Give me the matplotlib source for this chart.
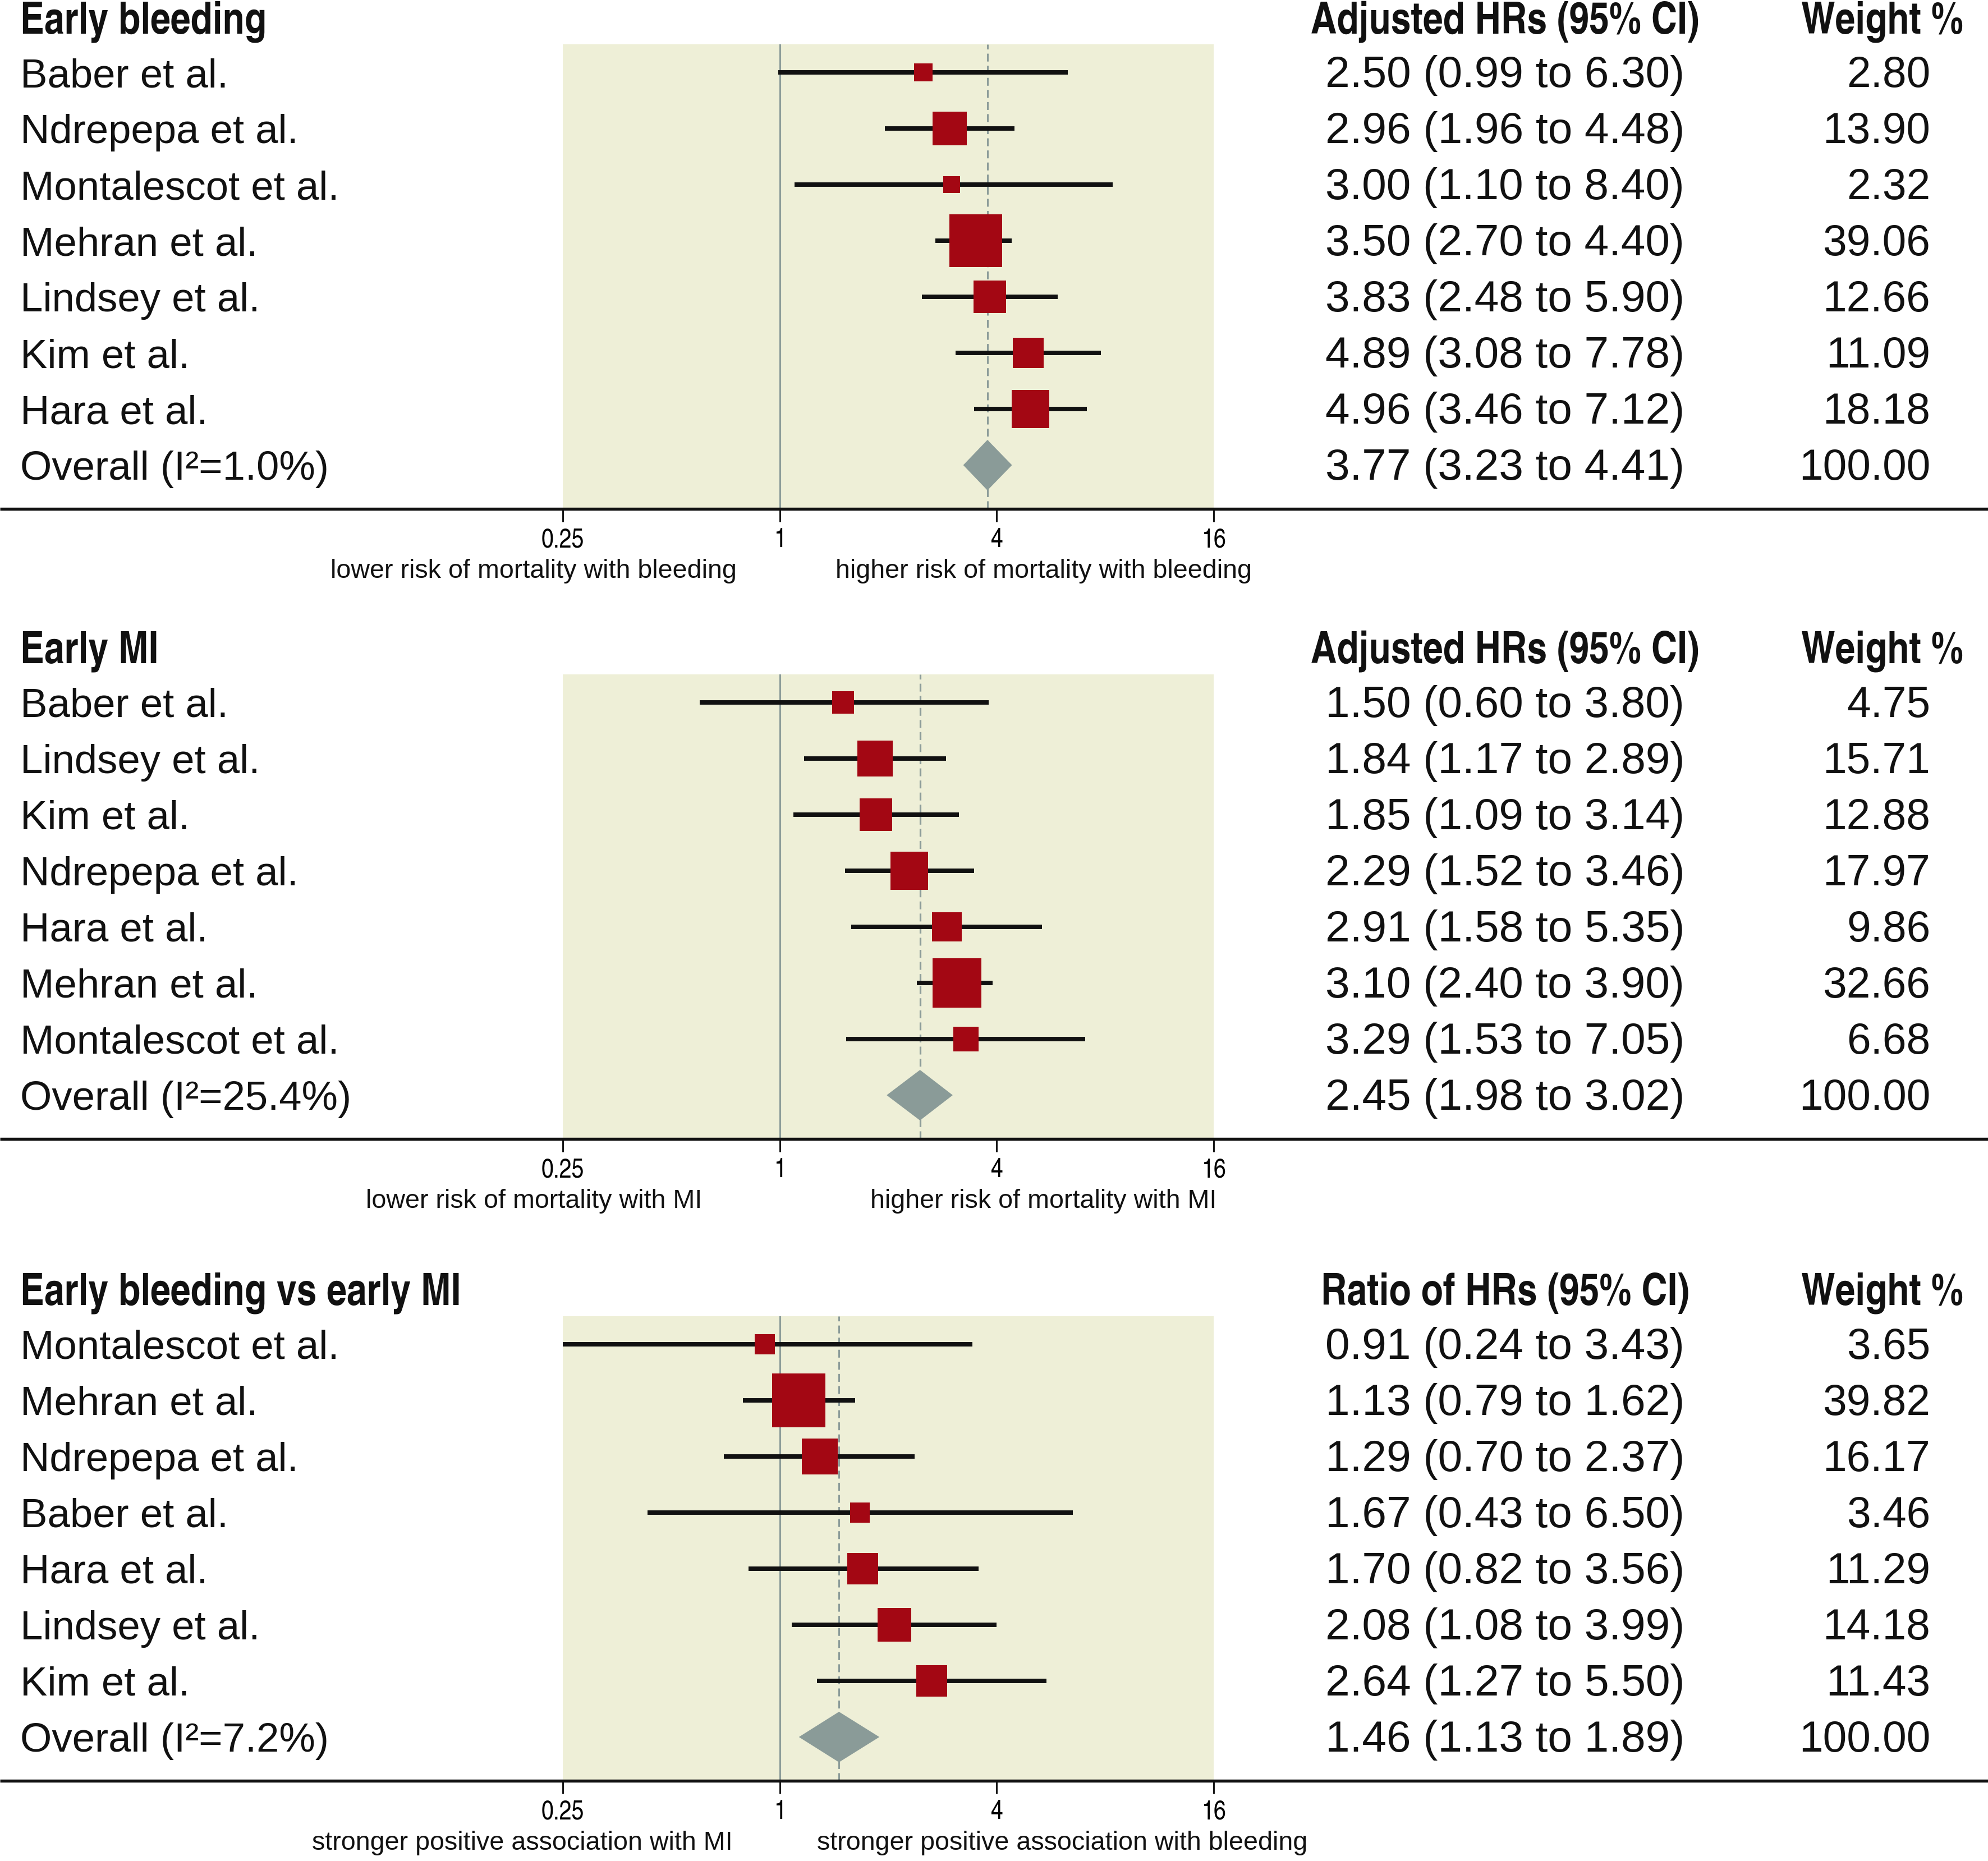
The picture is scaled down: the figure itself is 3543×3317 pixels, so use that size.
import numpy as np
import matplotlib
matplotlib.use("Agg")
import matplotlib.pyplot as plt
from matplotlib.patches import Polygon
from matplotlib.transforms import blended_transform_factory

# ---- data ----
bleedStudies = ["Baber et al.", "Ndrepepa et al.", "Montalescot et al.", "Mehran et al.",
                "Lindsey et al.", "Kim et al.", "Hara et al."]
bleedHR = [2.50, 2.96, 3.00, 3.50, 3.83, 4.89, 4.96]
bleedLow = [0.99, 1.96, 1.10, 2.70, 2.48, 3.08, 3.46]
bleedHigh = [6.30, 4.48, 8.40, 4.40, 5.90, 7.78, 7.12]
bleedWeight = [2.80, 13.90, 2.32, 39.06, 12.66, 11.09, 18.18]
bleedOverall = [3.77, 3.23, 4.41]
bleedI2 = "1.0"

miStudies = ["Baber et al.", "Lindsey et al.", "Kim et al.", "Ndrepepa et al.",
             "Hara et al.", "Mehran et al.", "Montalescot et al."]
miHR = [1.50, 1.84, 1.85, 2.29, 2.91, 3.10, 3.29]
miLow = [0.60, 1.17, 1.09, 1.52, 1.58, 2.40, 1.53]
miHigh = [3.80, 2.89, 3.14, 3.46, 5.35, 3.90, 7.05]
miWeight = [4.75, 15.71, 12.88, 17.97, 9.86, 32.66, 6.68]
miOverall = [2.45, 1.98, 3.02]
miI2 = "25.4"

ratioStudies = ["Montalescot et al.", "Mehran et al.", "Ndrepepa et al.", "Baber et al.",
                "Hara et al.", "Lindsey et al.", "Kim et al."]
ratioHR = [0.91, 1.13, 1.29, 1.67, 1.70, 2.08, 2.64]
ratioLow = [0.24, 0.79, 0.70, 0.43, 0.82, 1.08, 1.27]
ratioHigh = [3.43, 1.62, 2.37, 6.50, 3.56, 3.99, 5.50]
ratioWeight = [3.65, 39.82, 16.17, 3.46, 11.29, 14.18, 11.43]
ratioOverall = [1.46, 1.13, 1.89]
ratioI2 = "7.2"

panelTitles = ["Early bleeding", "Early MI", "Early bleeding vs early MI"]
estHeaders = ["Adjusted HRs (95% CI)", "Adjusted HRs (95% CI)", "Ratio of HRs (95% CI)"]
sideLabels = [("lower risk of mortality with bleeding", "higher risk of mortality with bleeding"),
              ("lower risk of mortality with MI", "higher risk of mortality with MI"),
              ("stronger positive association with MI", "stronger positive association with bleeding")]
xTicks = [0.25, 1, 4, 16]
xTickLabels = ["0.25", "1", "4", "16"]

# ---- style ----
shadeColor = "#EEEFD7"
boxColor = "#A30713"
diamondColor = "#8A9B98"
refColor = "#8C9C99"
inkColor = "#111111"

regFont = ["Liberation Sans", "DejaVu Sans"]
narrowFont = ["TeX Gyre Heros Cn", "Roboto Condensed", "Liberation Sans", "DejaVu Sans"]

W, H = 3543, 3317
dpi = 300
fig = plt.figure(figsize=(W / dpi, H / dpi), dpi=dpi)

rowPx = 100.0
firstRowPx = [129, 1252, 2396]
yTop, yBottom = -0.5, 7.78

axLeft = 1003 / W
axWidth = (2163 - 1003) / W
estX = 1187 / 1568
weightX = 0.971
weightHeadX = 0.9875
textX = 0.0102
sideX = [(0.2685, 0.525), (0.2685, 0.525), (0.2628, 0.5344)]


def boxSizePt(w):
    return (10 + 13.5 * np.sqrt(w)) * 72 / dpi


def draw_panel(k, studies, hr, low, high, weight, overall, i2):
    topPx = firstRowPx[k] - 0.5 * rowPx
    heightPx = (yBottom - yTop) * rowPx
    ax = fig.add_axes([axLeft, 1 - (topPx + heightPx) / H, axWidth, heightPx / H])
    ax.set_xscale("log", base=2)
    ax.set_xlim(0.25, 16)
    ax.set_ylim(yBottom, yTop)
    ax.set_facecolor(shadeColor)
    for s in ax.spines.values():
        s.set_visible(False)
    ax.set_yticks([])

    ax.set_xticks(xTicks)
    ax.set_xticklabels(xTickLabels, fontfamily=narrowFont, fontsize=11.5)
    ax.xaxis.set_minor_locator(matplotlib.ticker.NullLocator())
    ax.tick_params(axis="x", direction="out", length=5.5, width=0.7, pad=2.5, color=inkColor)

    rows = np.arange(len(studies))
    ax.axvline(1, color=refColor, lw=0.75, zorder=1)
    ax.axvline(overall[0], color=refColor, lw=0.75, dashes=(4.5, 2.4), zorder=1)

    ax.hlines(rows, low, high, color=inkColor, lw=1.9, zorder=2, capstyle="butt")
    sizes = [boxSizePt(w) ** 2 for w in weight]
    ax.scatter(hr, rows, s=sizes, marker="s", color=boxColor, linewidths=0, zorder=3)

    yo = len(studies)
    diamond = Polygon([(overall[1], yo), (overall[0], yo - 0.45), (overall[2], yo),
                       (overall[0], yo + 0.45)], closed=True, color=diamondColor,
                      linewidth=0, zorder=3)
    ax.add_patch(diamond)

    # full-width baseline
    tr = blended_transform_factory(fig.transFigure, ax.transData)
    ax.plot([0, 1], [yBottom, yBottom], transform=tr, color=inkColor, lw=1.3,
            clip_on=False, zorder=5, solid_capstyle="butt")

    # text columns
    base = 0.26
    ax.text(textX, -0.96 + base, panelTitles[k], transform=tr, ha="left", va="baseline",
            fontfamily=narrowFont, fontweight="bold", fontsize=18.8, color=inkColor)
    ax.text(estX, -0.96 + base, estHeaders[k], transform=tr, ha="center", va="baseline",
            fontfamily=narrowFont, fontweight="bold", fontsize=18.8, color=inkColor)
    ax.text(weightHeadX, -0.96 + base, "Weight %", transform=tr, ha="right", va="baseline",
            fontfamily=narrowFont, fontweight="bold", fontsize=18.8, color=inkColor)

    labels = list(studies) + ["Overall (I\u00b2=%s%%)" % i2]
    ests = ["%.2f (%.2f to %.2f)" % (h, l, u) for h, l, u in zip(hr, low, high)]
    ests.append("%.2f (%.2f to %.2f)" % tuple(overall))
    weights = ["%.2f" % w for w in weight] + ["100.00"]
    for i in range(len(labels)):
        ax.text(textX, i + base, labels[i], transform=tr, ha="left", va="baseline",
                fontfamily=regFont, fontsize=17.4, color=inkColor)
        ax.text(estX, i + base, ests[i], transform=tr, ha="center", va="baseline",
                fontfamily=regFont, fontsize=18.8, color=inkColor)
        ax.text(weightX, i + base, weights[i], transform=tr, ha="right", va="baseline",
                fontfamily=regFont, fontsize=18.4, color=inkColor)

    ax.text(sideX[k][0], yBottom + 1.11, sideLabels[k][0], transform=tr, ha="center",
            va="center", fontfamily=regFont, fontsize=11.2, color=inkColor)
    ax.text(sideX[k][1], yBottom + 1.11, sideLabels[k][1], transform=tr, ha="center",
            va="center", fontfamily=regFont, fontsize=11.2, color=inkColor)
    return ax


draw_panel(0, bleedStudies, bleedHR, bleedLow, bleedHigh, bleedWeight, bleedOverall, bleedI2)
draw_panel(1, miStudies, miHR, miLow, miHigh, miWeight, miOverall, miI2)
draw_panel(2, ratioStudies, ratioHR, ratioLow, ratioHigh, ratioWeight, ratioOverall, ratioI2)

fig.savefig("out.png", dpi=dpi, facecolor="white")
